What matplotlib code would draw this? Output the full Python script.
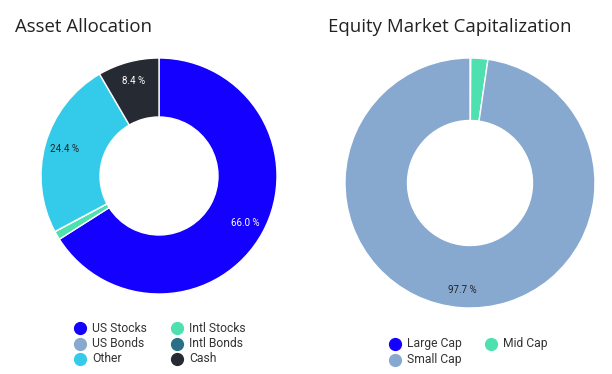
import matplotlib.pyplot as plt
from matplotlib.lines import Line2D

plt.rcParams['font.family'] = ['Roboto', 'DejaVu Sans']

# Asset allocation data (series order as in legend)
asset_labels = ["US Stocks", "Intl Stocks", "US Bonds", "Intl Bonds", "Other", "Cash"]
asset_values = [66.0, 1.2, 0.0, 0.0, 24.4, 8.4]
asset_colors = ["#1400ff", "#4fe0b0", "#87a9d0", "#2a6f86", "#34cbea", "#262a33"]
asset_text_colors = ["white", "#222222", "#222222", "#222222", "#222222", "white"]

# Equity market capitalization data
cap_labels = ["Large Cap", "Mid Cap", "Small Cap"]
cap_values = [0.1, 2.2, 97.7]
cap_colors = ["#1400ff", "#4fe0b0", "#87a9d0"]
cap_text_colors = ["white", "#222222", "#222222"]

W, H = 612, 374


def px_axes(fig, cx, cy, r):
  return fig.add_axes([(cx - r) / W, (H - cy - r) / H, 2 * r / W, 2 * r / H])


def donut(ax, values, colors, text_colors, pctdist):
  wedges, texts, autotexts = ax.pie(
    values, colors=colors, startangle=90, counterclock=False,
    radius=1.0, pctdistance=pctdist,
    autopct=lambda p: f"{p:.1f} %" if p >= 5 else "",
    wedgeprops=dict(width=0.5, edgecolor="white", linewidth=1),
    textprops=dict(fontsize=7))
  for t, c in zip(autotexts, text_colors):
    t.set_color(c)
  ax.set_xlim(-1, 1)
  ax.set_ylim(-1, 1)
  ax.set_aspect("equal")
  ax.axis("off")


def legend(fig, labels, colors, x0, y0, col_dx, row_dy, ncols):
  for i, (lab, col) in enumerate(zip(labels, colors)):
    c = i % ncols
    r = i // ncols
    x = x0 + c * col_dx
    y = y0 + r * row_dy
    fig.add_artist(Line2D([x / W], [1 - y / H], marker="o", markersize=8.5,
                          color=col, linestyle="none"))
    fig.text((x + 12) / W, 1 - y / H, lab, fontsize=8.7, color="#333333",
             va="center", ha="left")


fig = plt.figure(figsize=(6.12, 3.74), dpi=100)

ax1 = px_axes(fig, 159, 176, 118)
donut(ax1, asset_values, asset_colors, asset_text_colors, 0.835)
ax2 = px_axes(fig, 470, 183, 125)
donut(ax2, cap_values, cap_colors, cap_text_colors, 0.86)

title_font = dict(family=["Open Sans", "DejaVu Sans"], fontsize=13.4,
                  color="#222222", va="center", ha="left")
fig.text(15 / W, 1 - 27 / H, "Asset Allocation", **title_font)
fig.text(328 / W, 1 - 27 / H, "Equity Market Capitalization", **title_font)

legend(fig, asset_labels, asset_colors, 80, 328, 97, 15.5, 2)
legend(fig, cap_labels, cap_colors, 395, 344, 96, 15.5, 2)

fig.savefig("out.png", dpi=100)
